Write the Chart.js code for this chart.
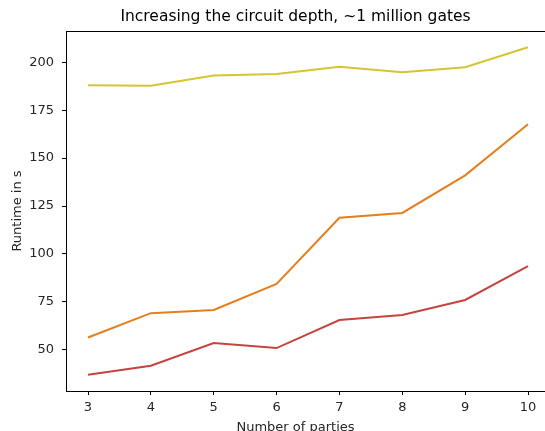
<!DOCTYPE html>
<html>
<head>
<meta charset="utf-8">
<script src="https://cdn.jsdelivr.net/npm/chart.js@4"></script>
<style>
  html, body { margin: 0; padding: 0; background: #fff; overflow: hidden; }
  #wrap { position: relative; width: 550px; height: 440px; }
</style>
</head>
<body>
<div id="wrap"><canvas id="chart"></canvas></div>
<script>
// Increasing the circuit depth, ~1 million gates
const titulo = "Increasing the circuit depth, ~1 million gates";
const tituloX = "Number of parties";
const parties = [3, 4, 5, 6, 7, 8, 9, 10];
const serieAmarela = [188.0, 187.8, 193.1, 193.9, 197.7, 194.8, 197.4, 207.8];
const serieLaranja = [56.4, 69.1, 70.8, 84.4, 118.9, 121.4, 141.0, 167.7];
const serieVermelha = [37.0, 41.7, 53.5, 50.9, 65.5, 68.1, 76.0, 93.6];
const yTicks = [50, 75, 100, 125, 150, 175, 200];

const FONT = "'DejaVu Sans', sans-serif";
const TEXT = "#262626";

// spine de cima + títulos (centrados como no original)
const spinePlugin = {
  id: "spine",
  afterDraw(chart) {
    const { ctx, chartArea } = chart;
    ctx.save();
    ctx.strokeStyle = "#000";
    ctx.lineWidth = 1;
    ctx.beginPath();
    ctx.moveTo(chartArea.left, chartArea.top + 0.5);
    ctx.lineTo(chartArea.right, chartArea.top + 0.5);
    ctx.stroke();

    ctx.textAlign = "center";
    ctx.textBaseline = "middle";
    ctx.fillStyle = "#000";
    ctx.font = "15.5px " + FONT;
    ctx.fillText(titulo, 295.5, 17);

    ctx.textBaseline = "alphabetic";
    ctx.fillStyle = TEXT;
    ctx.font = "13px " + FONT;
    ctx.fillText(tituloX, 295.5, 430.5);
    ctx.restore();
  }
};

const ctx = document.getElementById("chart").getContext("2d");

new Chart(ctx, {
  type: "line",
  data: {
    datasets: [
      { data: parties.map((p, i) => ({ x: p, y: serieVermelha[i] })), borderColor: "#c5443f" },
      { data: parties.map((p, i) => ({ x: p, y: serieLaranja[i] })), borderColor: "#e67e1e" },
      { data: parties.map((p, i) => ({ x: p, y: serieAmarela[i] })), borderColor: "#d5c534" }
    ]
  },
  options: {
    responsive: true,
    maintainAspectRatio: false,
    animation: false,
    layout: { padding: { top: 31, left: 0, right: 0, bottom: 0 } },
    elements: {
      point: { radius: 0 },
      line: { borderWidth: 2, tension: 0 }
    },
    plugins: {
      legend: { display: false },
      tooltip: { enabled: false },
      title: { display: false }
    },
    scales: {
      x: {
        type: "linear",
        min: 2.65,
        max: 10.35,
        afterFit(scale) { scale.height = 49; },
        afterBuildTicks(scale) { scale.ticks = parties.map(v => ({ value: v })); },
        border: { display: true, color: "#000", width: 1 },
        grid: { drawOnChartArea: false, tickLength: 4, tickColor: "#000" },
        ticks: { color: TEXT, font: { family: FONT, size: 13 }, padding: 5, maxRotation: 0 },
        title: { display: false }
      },
      y: {
        min: 28.5,
        max: 216.3,
        afterFit(scale) { scale.width = 66; },
        afterBuildTicks(scale) { scale.ticks = yTicks.map(v => ({ value: v })); },
        border: { display: true, color: "#000", width: 1 },
        grid: { drawOnChartArea: false, tickLength: 4, tickColor: "#000" },
        ticks: { color: TEXT, font: { family: FONT, size: 13 }, padding: 8 },
        title: {
          display: true,
          text: "Runtime in s",
          color: TEXT,
          font: { family: FONT, size: 13 },
          padding: { top: 10, bottom: 0 }
        }
      }
    }
  },
  plugins: [spinePlugin]
});
</script>
</body>
</html>
